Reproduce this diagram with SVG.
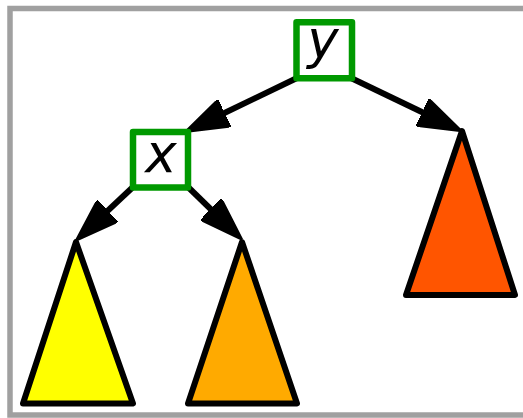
<svg xmlns="http://www.w3.org/2000/svg" width="523" height="418" viewBox="0 0 523 418">
<style>
.frame{fill:#fff;stroke:#a0a0a0;stroke-width:5.5}
.box{fill:#fff;stroke:#009900;stroke-width:6.5;stroke-linejoin:round}
.lbl{font-family:"DejaVu Sans",Verdana,sans-serif;font-style:oblique;font-size:53px;fill:#000;text-anchor:middle}
.tri{stroke:#000;stroke-width:6;stroke-linejoin:round}
.edge{stroke:#000;stroke-width:6;fill:none;marker-end:url(#ah)}
</style>
<defs>
<marker id="ah" viewBox="0 0 44 30" refX="29" refY="15" markerWidth="44" markerHeight="30" markerUnits="userSpaceOnUse" orient="auto">
<path d="M0,0 L44,15 L0,30 z" fill="#000" stroke="#000" stroke-width="2" stroke-linejoin="round"/>
</marker>
</defs>
<rect class="frame" x="10" y="8.5" width="520" height="406.5"/>
<g id="connectors">
<line class="edge" x1="297" y1="78" x2="198.5" y2="125.5"/>
<line class="edge" x1="351" y1="78" x2="448.4" y2="124.7"/>
<line class="edge" x1="133" y1="187" x2="86.6" y2="230.6"/>
<line class="edge" x1="188" y1="187" x2="231.5" y2="229.3"/>
</g>
<g id="node-y">
<rect class="box" x="296.5" y="22.3" width="55.5" height="56"/>
<text class="lbl" x="323" y="58">y</text>
</g>
<g id="node-x">
<rect class="box" x="133" y="132" width="55" height="55.5"/>
<text class="lbl" x="161" y="172">x</text>
</g>
<g id="tree-a">
<polygon class="tri" fill="#ffff00" points="76,242 133,403.5 23,403.5"/>
</g>
<g id="tree-b">
<polygon class="tri" fill="#ffaa00" points="242,242 297,403.5 188,403.5"/>
</g>
<g id="tree-c">
<polygon class="tri" fill="#ff5500" points="462,131 515,295 406,295"/>
</g>
</svg>
